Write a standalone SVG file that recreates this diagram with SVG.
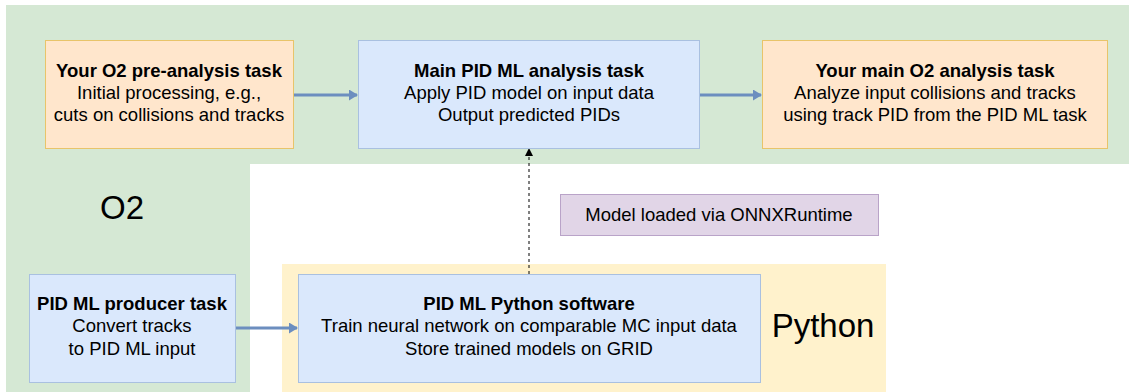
<svg xmlns="http://www.w3.org/2000/svg" width="1129" height="392" viewBox="0 0 1129 392">
  <style>
    text { font-family: "Liberation Sans", Arial, sans-serif; fill: #000; }
    .t { font-size: 18.5px; text-anchor: middle; }
    .b { font-weight: bold; }
    .big { font-size: 33px; text-anchor: middle; }
    .orange { fill: #ffe6cc; stroke: #e8c46a; stroke-width: 1; }
    .blue { fill: #dae8fc; stroke: #a9c0e0; stroke-width: 1; }
    .purple { fill: #e1d5e7; stroke: #b9a3c8; stroke-width: 1; }
    .flow { stroke: #6c8ebf; stroke-width: 3; fill: none; }
    .dash { stroke: #000; stroke-width: 1; stroke-dasharray: 3 3; fill: none; }
  </style>
  <defs>
    <marker id="bluehead" markerWidth="9" markerHeight="11" refX="8" refY="5.5" orient="auto" markerUnits="userSpaceOnUse">
      <path d="M0,0 L9,5.5 L0,11 Z" fill="#6c8ebf"/>
    </marker>
    <marker id="blackhead" markerWidth="8" markerHeight="8" refX="7" refY="4" orient="auto" markerUnits="userSpaceOnUse">
      <path d="M0,0 L8,4 L0,8 Z" fill="#000"/>
    </marker>
  </defs>
  <rect width="1129" height="392" fill="#ffffff"/>
  <g id="o2-region">
    <path d="M6,5 H1129 V164 H250 V392 H6 Z" fill="#d5e8d4"/>
    <text class="big" x="122" y="219">O2</text>
  </g>
  <g id="python-region">
    <rect x="282" y="264" width="604" height="128" fill="#fff2cc"/>
    <text class="big" x="823" y="337">Python</text>
  </g>
  <g id="connectors">
    <line class="flow" x1="293" y1="95" x2="357" y2="95" marker-end="url(#bluehead)"/>
    <line class="flow" x1="699" y1="95" x2="761" y2="95" marker-end="url(#bluehead)"/>
    <line class="flow" x1="235" y1="328" x2="297" y2="328" marker-end="url(#bluehead)"/>
    <line class="dash" x1="529" y1="274" x2="529" y2="149" marker-end="url(#blackhead)"/>
  </g>
  <g id="pre-analysis-task">
    <rect class="orange" x="45.5" y="40.5" width="248" height="108"/>
    <text class="t b" x="169" y="77">Your O2 pre-analysis task</text>
    <text class="t" x="169" y="99">Initial processing, e.g.,</text>
    <text class="t" x="169" y="121">cuts on collisions and tracks</text>
  </g>
  <g id="main-pid-task">
    <rect class="blue" x="358.5" y="40.5" width="341" height="108"/>
    <text class="t b" x="529" y="77">Main PID ML analysis task</text>
    <text class="t" x="529" y="99">Apply PID model on input data</text>
    <text class="t" x="529" y="121">Output predicted PIDs</text>
  </g>
  <g id="main-analysis-task">
    <rect class="orange" x="762.5" y="40.5" width="345" height="108"/>
    <text class="t b" x="935" y="77">Your main O2 analysis task</text>
    <text class="t" x="935" y="99">Analyze input collisions and tracks</text>
    <text class="t" x="935" y="121">using track PID from the PID ML task</text>
  </g>
  <g id="onnx-label">
    <rect class="purple" x="560.5" y="194.5" width="318" height="41"/>
    <text class="t" x="719" y="221">Model loaded via ONNXRuntime</text>
  </g>
  <g id="producer-task">
    <rect class="blue" x="29.5" y="274.5" width="206" height="108"/>
    <text class="t b" x="132" y="310">PID ML producer task</text>
    <text class="t" x="132" y="332">Convert tracks</text>
    <text class="t" x="132" y="355">to PID ML input</text>
  </g>
  <g id="python-software">
    <rect class="blue" x="298.5" y="274.5" width="462" height="108"/>
    <text class="t b" x="529" y="310">PID ML Python software</text>
    <text class="t" x="529" y="332">Train neural network on comparable MC input data</text>
    <text class="t" x="529" y="355">Store trained models on GRID</text>
  </g>
</svg>
